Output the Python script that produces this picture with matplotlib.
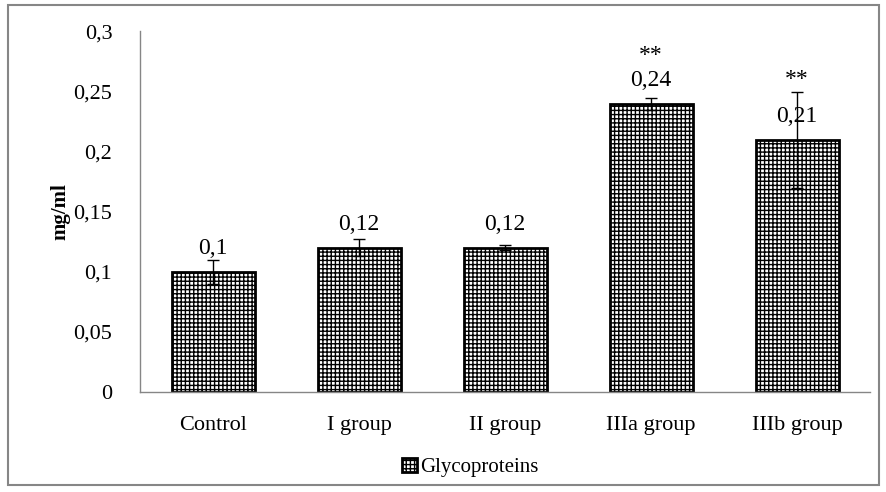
import matplotlib.pyplot as plt
from matplotlib.patches import Rectangle

plt.rcParams['font.family'] = ['Liberation Serif', 'DejaVu Serif']
plt.rcParams['hatch.linewidth'] = 1.0

# Glycoprotein content per group (mg/ml)
groups = ["Control", "I group", "II group", "IIIa group", "IIIb group"]
values = [0.10, 0.12, 0.12, 0.24, 0.21]
errors = [0.010, 0.007, 0.002, 0.005, 0.040]
marks = ["", "", "", "**", "**"]
yticks = [0, 0.05, 0.1, 0.15, 0.2, 0.25, 0.3]

fig = plt.figure(figsize=(8.87, 4.92), dpi=100)
ax = fig.add_axes([0.158, 0.203, 0.823, 0.733])

x = range(len(groups))
bars = ax.bar(x, values, width=0.57, color="white", edgecolor="black",
              linewidth=2, hatch="++++", label="Glycoproteins", zorder=2)
ax.errorbar(x, values, yerr=errors, fmt="none", ecolor="black",
            elinewidth=1, capsize=4.5, capthick=1, zorder=3)

# value labels and significance marks
for i, (v, m) in enumerate(zip(values, marks)):
    ax.annotate(f"{v:g}".replace(".", ","), (i, v), xytext=(0, 16.5),
                textcoords="offset points", ha="center", va="center",
                fontsize=17)
    if m:
        off = 35 if i == 3 else 43
        ax.annotate(m, (i, v), xytext=(0, off), textcoords="offset points",
                    ha="center", va="center", fontsize=17)

ax.set_xlim(-0.5, len(groups) - 0.5)
ax.set_ylim(0, 0.3)
ax.set_yticks(yticks)
ax.set_yticklabels([f"{t:g}".replace(".", ",") for t in yticks])
ax.set_xticks(list(x))
ax.set_xticklabels(groups)
ax.tick_params(axis="both", length=0, labelsize=16)
ax.tick_params(axis="y", pad=20)
ax.tick_params(axis="x", pad=17)

for side in ["top", "right"]:
    ax.spines[side].set_visible(False)
for side in ["left", "bottom"]:
    ax.spines[side].set_color("#868686")
    ax.spines[side].set_linewidth(1)

ax.set_ylabel("mg/ml", fontsize=15, fontweight="bold")
ax.yaxis.set_label_coords(-0.095, 0.5)

ax.legend(loc="center", bbox_to_anchor=(0.53, 0.05),
          bbox_transform=fig.transFigure, frameon=False, fontsize=15,
          handlelength=0.7, handleheight=0.7, handletextpad=0.15)

# chart border
fig.patches.append(Rectangle((0.009, 0.014), 0.982, 0.976, transform=fig.transFigure,
                             fill=False, edgecolor="#868686", linewidth=1.5))

fig.savefig("out.png", dpi=100)
